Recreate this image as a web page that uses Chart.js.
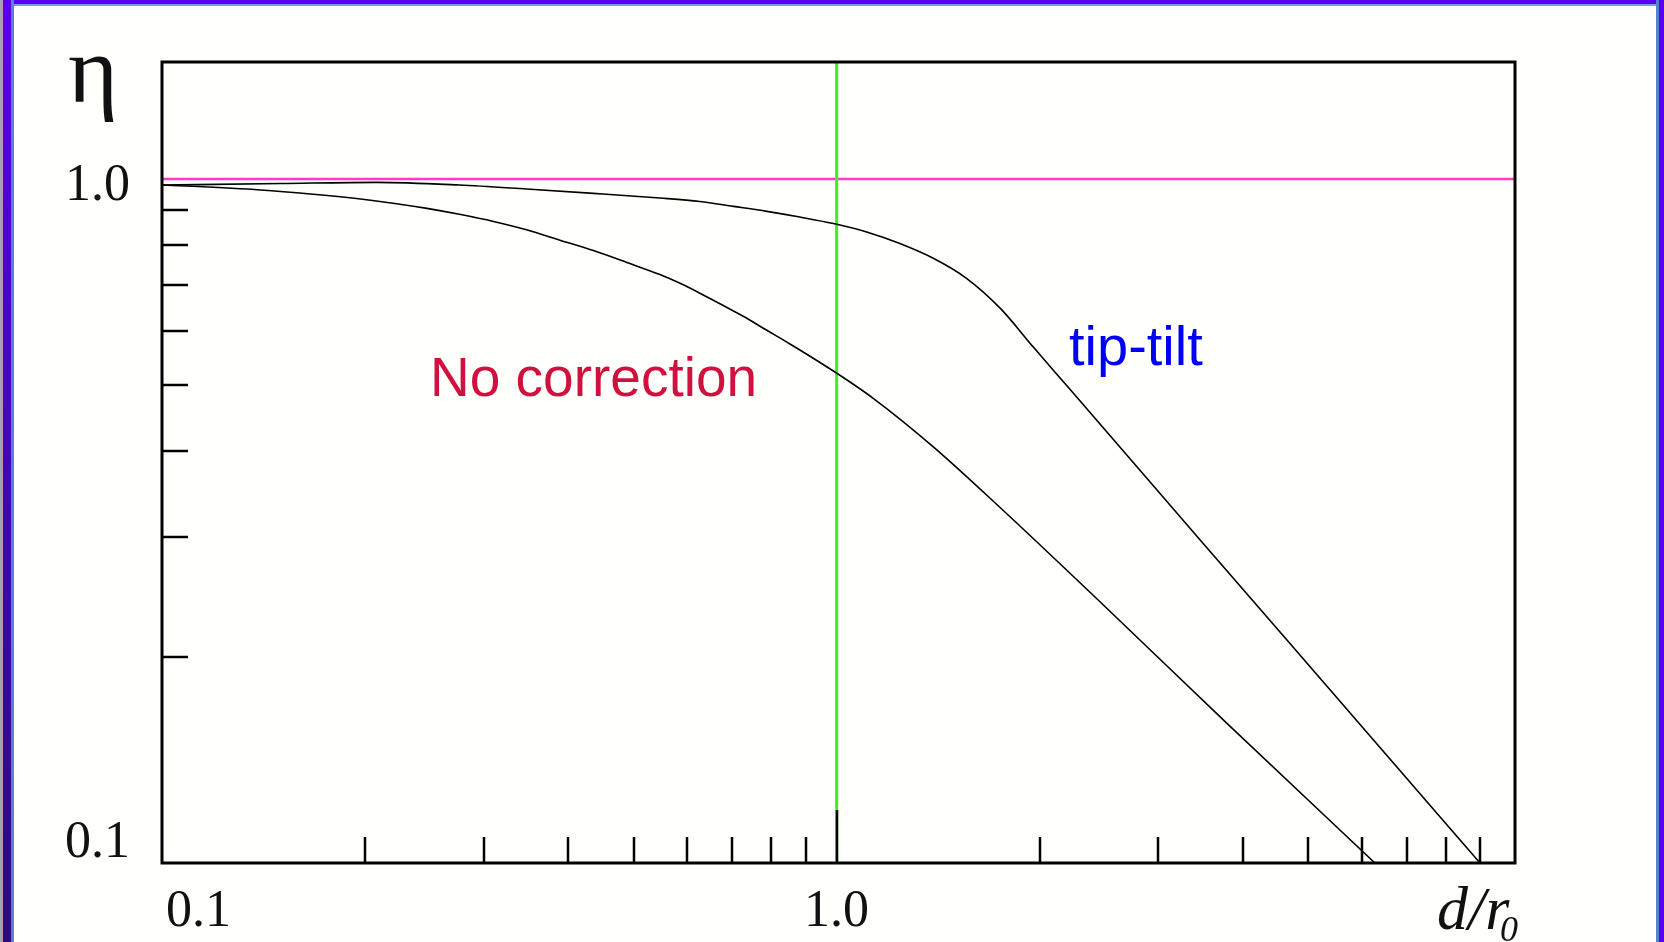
<!DOCTYPE html>
<html>
<head>
<meta charset="utf-8">
<script src="https://cdn.jsdelivr.net/npm/chart.js@4.4.1/dist/chart.umd.min.js"></script>
<style>
  html, body { margin: 0; padding: 0; background: #fffffb; }
  #wrap { position: relative; width: 1664px; height: 942px; overflow: hidden; background: #fffffb; }
  #wrap canvas { position: absolute; left: 0; top: 0; }
  .edge { position: absolute; }
  .edge.top { left: 0; right: 0; top: 0; height: 6px;
    background: linear-gradient(to bottom, #5a00ee 0, #5a00ee 4px, #7a98dc 4px, #7a98dc 6px); }
  .edge.left { left: 0; top: 0; bottom: 0; width: 14px;
    background: linear-gradient(to right, #9ab 0, #c8a 3px, transparent 3px),
                linear-gradient(to bottom, #5a00ee, #3a0aa8 60%, #2c0a80);
  }
  .edge.left2 { left: 11px; top: 0; bottom: 0; width: 3px; background: #5a7ee0; }
  .edge.right { right: 0; top: 0; bottom: 0; width: 8px;
    background: linear-gradient(to right, #5a7ed8 0, #5a7ed8 3px, #5a00ee 3px, #5a00ee 8px); }
</style>
</head>
<body>
<div id="wrap">
  <canvas id="chart" width="1664" height="942"></canvas>
  <div class="edge top"></div>
  <div class="edge left"></div>
  <div class="edge left2"></div>
  <div class="edge right"></div>
</div>
<script>
// values (log-log, d/r0 vs eta)
const tipTiltX = [0.1, 0.15, 0.208, 0.276, 0.347, 0.436, 0.547, 0.627, 0.703, 0.788, 0.882, 0.989,
  1.108, 1.241, 1.391, 1.558, 1.746, 1.957, 2.193, 2.43, 3.456, 5.9, 8.99];
const tipTiltY = [0.98, 0.985, 0.989, 0.98, 0.967, 0.953, 0.938, 0.927, 0.912, 0.897, 0.88, 0.861,
  0.837, 0.805, 0.766, 0.716, 0.648, 0.568, 0.499, 0.444, 0.297, 0.1616, 0.1];

const noCorrX = [0.1, 0.111, 0.14, 0.166, 0.197, 0.22, 0.247, 0.276, 0.31, 0.347, 0.389, 0.436, 0.489,
  0.547, 0.586, 0.627, 0.727, 0.788, 0.853, 0.989, 1.133, 1.391, 1.747, 2.457, 3.79, 6.28];
const noCorrY = [0.98, 0.976, 0.964, 0.951, 0.935, 0.922, 0.906, 0.888, 0.867, 0.843, 0.814, 0.786, 0.755,
  0.725, 0.704, 0.681, 0.63, 0.601, 0.574, 0.524, 0.478, 0.406, 0.331, 0.241, 0.16, 0.1];

const xRange = [0.1, 10.13];
const yRange = [0.1, 1.483];
const refEta = 1.0;      // pink line
const refRatio = 1.0;    // green line

const xMinorTicks = [0.2, 0.3, 0.4, 0.5, 0.6, 0.7, 0.8, 0.9, 2, 3, 4, 5, 6, 7, 8, 9];
const xMajorTicks = [1.0];
const yMinorTicks = [0.2, 0.3, 0.4, 0.5, 0.6, 0.7, 0.8, 0.9];
const xTickLabels = [[0.1, '0.1'], [1.0, '1.0']];
const yTickLabels = [[1.0, '1.0'], [0.1, '0.1']];

const zip = (xs, ys) => xs.map((v, i) => ({ x: v, y: ys[i] }));

const serif = '"Liberation Serif", "DejaVu Serif", serif';
const sans = '"Liberation Sans", Arial, sans-serif';

const frame = {
  id: 'frame',
  afterDatasetsDraw(chart) {
    const { ctx, chartArea: a, scales: { x, y } } = chart;
    ctx.save();
    ctx.strokeStyle = '#000';

    // inward ticks
    ctx.lineWidth = 2.5;
    ctx.beginPath();
    xMinorTicks.forEach(v => {
      const px = Math.round(x.getPixelForValue(v));
      ctx.moveTo(px, a.bottom); ctx.lineTo(px, a.bottom - 26);
    });
    xMajorTicks.forEach(v => {
      const px = Math.round(x.getPixelForValue(v));
      ctx.moveTo(px, a.bottom); ctx.lineTo(px, a.bottom - 53);
    });
    yMinorTicks.forEach(v => {
      const py = Math.round(y.getPixelForValue(v));
      ctx.moveTo(a.left, py); ctx.lineTo(a.left + 26, py);
    });
    ctx.stroke();

    // box
    ctx.lineWidth = 3;
    ctx.strokeRect(a.left, a.top, a.right - a.left, a.bottom - a.top);

    // tick labels
    ctx.fillStyle = '#111';
    ctx.font = '52px ' + serif;
    ctx.textBaseline = 'alphabetic';
    xTickLabels.forEach(([v, t], i) => {
      const px = x.getPixelForValue(v);
      ctx.textAlign = i === 0 ? 'left' : 'center';
      ctx.fillText(t, i === 0 ? px + 4 : px, a.bottom + 63);
    });
    ctx.textAlign = 'right';
    yTickLabels.forEach(([v, t], i) => {
      const py = y.getPixelForValue(v);
      ctx.fillText(t, a.left - 32, i === 0 ? py + 21 : a.bottom - 6);
    });

    // axis titles
    ctx.textAlign = 'left';
    ctx.font = '96px ' + serif;
    ctx.fillText('η', 68, 102);
    ctx.font = 'italic 62px ' + serif;
    ctx.fillText('d/r', 1437, 929);
    ctx.font = 'italic 36px ' + serif;
    ctx.fillText('0', 1500, 941);

    // curve labels
    ctx.font = '55px ' + sans;
    ctx.fillStyle = 'rgb(208, 16, 62)';
    ctx.fillText('No correction', 430, 396);
    ctx.fillStyle = 'rgb(0, 0, 245)';
    ctx.font = '56px ' + sans;
    ctx.fillText('tip-tilt', 1069, 365);
    ctx.restore();
  }
};

new Chart(document.getElementById('chart'), {
  type: 'line',
  data: {
    datasets: [
      { label: 'tip-tilt', data: zip(tipTiltX, tipTiltY), borderColor: '#000', borderWidth: 1.6,
        pointRadius: 0, cubicInterpolationMode: 'monotone', order: 0 },
      { label: 'No correction', data: zip(noCorrX, noCorrY), borderColor: '#000', borderWidth: 1.6,
        pointRadius: 0, cubicInterpolationMode: 'monotone', order: 0 },
      { label: 'eta = 1', data: [{ x: xRange[0], y: refEta }, { x: xRange[1], y: refEta }],
        borderColor: '#ff3cc4', borderWidth: 2.5, pointRadius: 0, order: 2 },
      { label: 'd/r0 = 1', data: [{ x: refRatio, y: yRange[0] }, { x: refRatio, y: yRange[1] }],
        borderColor: '#3ff020', borderWidth: 3, pointRadius: 0, order: 1 }
    ]
  },
  options: {
    responsive: false,
    animation: false,
    layout: { padding: { left: 162, top: 62, right: 149, bottom: 79 } },
    plugins: { legend: { display: false }, tooltip: { enabled: false } },
    scales: {
      x: { type: 'logarithmic', min: xRange[0], max: xRange[1], display: false },
      y: { type: 'logarithmic', min: yRange[0], max: yRange[1], display: false }
    }
  },
  plugins: [frame]
});
</script>
</body>
</html>
